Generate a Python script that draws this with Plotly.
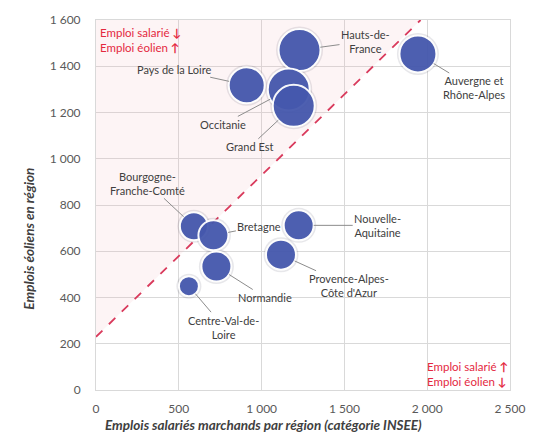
import plotly.graph_objects as go

regions = ["Pays de la Loire", "Hauts-de-France", "Occitanie", "Grand Est",
           "Auvergne et Rhône-Alpes", "Bourgogne-Franche-Comté", "Bretagne",
           "Normandie", "Centre-Val-de-Loire", "Nouvelle-Aquitaine",
           "Provence-Alpes-Côte d'Azur"]
emplois_salaries = [910, 1229, 1164, 1194, 1944, 591, 709, 727, 561, 1224, 1117]
emplois_eoliens = [1318, 1470, 1300, 1229, 1453, 708, 669, 534, 449, 712, 585]
bubble_value = [36, 42, 42, 42, 37, 28, 30, 30, 20, 30, 30]

label_text = ["Pays de la Loire", "Hauts-de-<br>France", "Occitanie", "Grand Est",
              "Auvergne et<br>Rhône-Alpes", "Bourgogne-<br>Franche-Comté", "Bretagne",
              "Normandie", "Centre-Val-de-<br>Loire", "Nouvelle-<br>Aquitaine",
              "Provence-Alpes-<br>Côte d'Azur"]
label_dx = [-73, 66, -66, -44, 56, -46, 46, 49, 35, 79, 68]
label_dy = [-16, -9, 35, 41, 34, -43, -9, 31, 41, 0, 31]

diag_x = [0, 1960]
diag_y = [230, 1600]

x_ticks = [0, 500, 1000, 1500, 2000, 2500]
y_ticks = [0, 200, 400, 600, 800, 1000, 1200, 1400, 1600]

FONT = "Lato"
RED = "#e4283f"

fig = go.Figure()

# pink zone above the diagonal
fig.add_trace(go.Scatter(x=[diag_x[0], diag_x[1], 0], y=[diag_y[0], diag_y[1], diag_y[1]],
                         fill="toself", fillcolor="rgba(240,180,185,0.14)",
                         line=dict(width=0), mode="lines", hoverinfo="skip", showlegend=False))
# diagonal dashed line
fig.add_trace(go.Scatter(x=diag_x, y=diag_y, mode="lines",
                         line=dict(color="#d93a5c", width=1.8, dash="dash"),
                         hoverinfo="skip", showlegend=False))
# shadow halo
fig.add_trace(go.Scatter(x=emplois_salaries, y=emplois_eoliens, mode="markers",
                         marker=dict(size=[v + 5 for v in bubble_value], color="rgba(60,60,80,0.12)",
                                     opacity=1, line=dict(width=0)),
                         hoverinfo="skip", showlegend=False))
# bubbles
fig.add_trace(go.Scatter(x=emplois_salaries, y=emplois_eoliens, mode="markers",
                         text=regions,
                         marker=dict(size=bubble_value, color="#4558ad", opacity=0.95,
                                     line=dict(color="white", width=2)),
                         showlegend=False))

for r, xv, yv, s, dx, dy in zip(label_text, emplois_salaries, emplois_eoliens, bubble_value, label_dx, label_dy):
    fig.add_annotation(x=xv, y=yv, text=r, showarrow=True, ax=dx, ay=dy,
                       arrowhead=0, arrowwidth=1, arrowcolor="#8c8c8c", standoff=s / 2,
                       font=dict(family=FONT, size=11, color="#404040"))

fig.add_annotation(xref="paper", yref="paper", x=0.005, y=0.99, xanchor="left", yanchor="top",
                   text="Emploi salarié <b>↓</b><br>Emploi éolien <b>↑</b>", showarrow=False, align="left",
                   font=dict(family=FONT, size=11.5, color=RED))
fig.add_annotation(xref="paper", yref="paper", x=1.0, y=0.0, xanchor="right", yanchor="bottom",
                   text="Emploi salarié <b>↑</b><br>Emploi éolien <b>↓</b>", showarrow=False, align="left",
                   font=dict(family=FONT, size=11.5, color=RED))

fig.add_annotation(xref="paper", yref="paper", x=-0.161, y=0.41, xanchor="center", yanchor="middle",
                   text="<b><i>Emplois éoliens en région</i></b>", textangle=-90, showarrow=False,
                   font=dict(family=FONT, size=13.5, color="#404040"))
fig.add_annotation(xref="paper", yref="paper", x=0.404, y=-0.095, xanchor="center", yanchor="middle",
                   text="<b><i>Emplois salariés marchands par région (catégorie INSEE)</i></b>",
                   showarrow=False, font=dict(family=FONT, size=13.5, color="#404040"))

fig.update_layout(
    width=537, height=442,
    margin=dict(l=96, r=18, t=12, b=52),
    paper_bgcolor="white", plot_bgcolor="white",
    separators=", ",
    font=dict(family=FONT, size=12, color="#595959"),
    xaxis=dict(range=[0, 2500], tickvals=x_ticks, tickformat=",d", showgrid=True, gridcolor="#d9d9d9",
               zeroline=False, showline=True, linecolor="#d9d9d9", mirror=True,
               ticks="outside", ticklen=8, tickcolor="rgba(0,0,0,0)",
               tickfont=dict(family=FONT, size=12, color="#595959")),
    yaxis=dict(range=[0, 1600], tickvals=y_ticks, tickformat=",d", showgrid=True, gridcolor="#d9d9d9",
               zeroline=False, showline=True, linecolor="#d9d9d9", mirror=True,
               ticks="outside", ticklen=12, tickcolor="rgba(0,0,0,0)",
               tickfont=dict(family=FONT, size=12, color="#595959")),
)

fig.write_html("out.html")
